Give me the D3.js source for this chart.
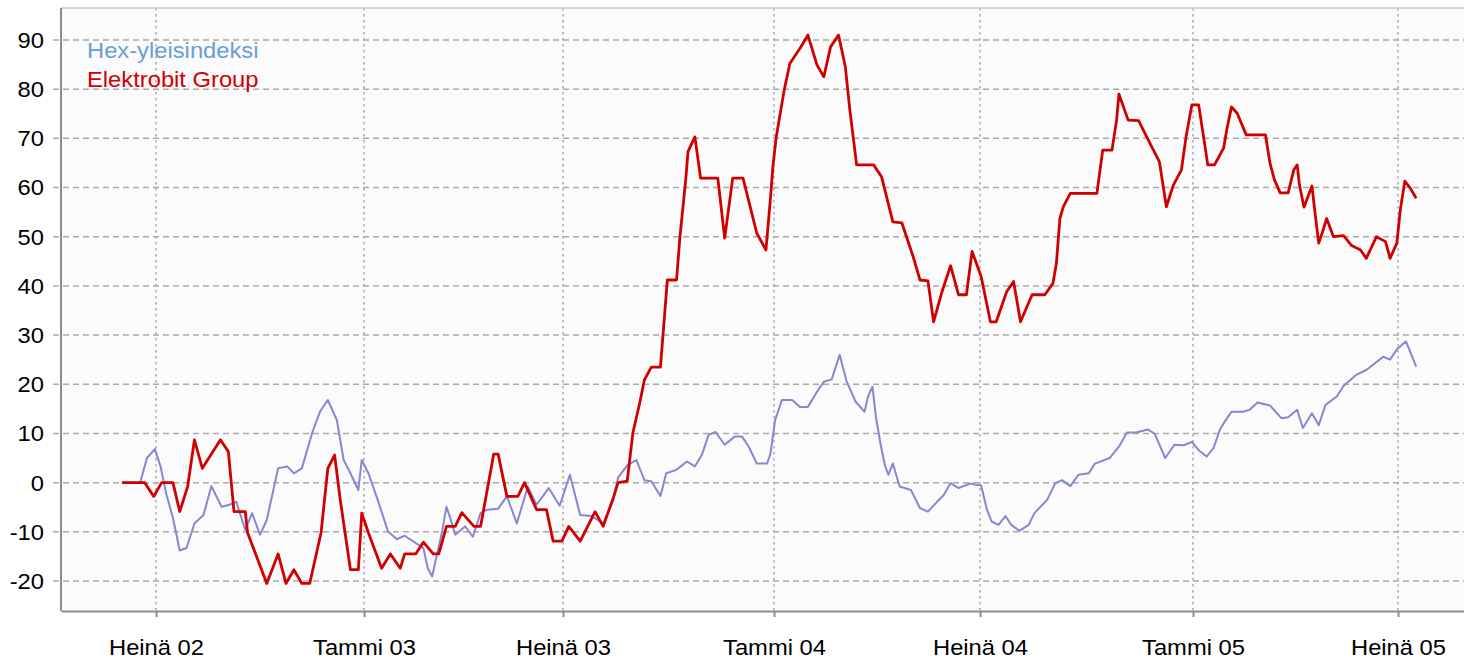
<!DOCTYPE html>
<html>
<head>
<meta charset="utf-8">
<script src="https://cdn.jsdelivr.net/npm/d3@7"></script>
<style>
body { margin: 0; background: #fff; }
text { font-family: "Liberation Sans", Arial, sans-serif; }
</style>
</head>
<body>
<script>
var width = 1464;
var height = 659;
var plotLeft = 61, plotTop = 8, plotRight = 1464, plotBottom = 611;
var fontSize = 22;
var stretch = 1.08; // text in the original is a bit wider than plain Arial

var seriesNames = ["Hex-yleisindeksi", "Elektrobit Group"];
var tickDates = ["2002-07-01", "2003-01-01", "2003-07-01", "2004-01-01", "2004-07-01", "2005-01-01", "2005-07-01"];
var tickLabels = ["Heinä 02", "Tammi 03", "Heinä 03", "Tammi 04", "Heinä 04", "Tammi 05", "Heinä 05"];
var yTicks = [-20, -10, 0, 10, 20, 30, 40, 50, 60, 70, 80, 90];

var hexDates = [
  "2002-06-01", "2002-06-17", "2002-06-23", "2002-06-30", "2002-07-05", "2002-07-10", "2002-07-16", "2002-07-22", "2002-07-28", "2002-08-04",
  "2002-08-12", "2002-08-19", "2002-08-28", "2002-09-04", "2002-09-10", "2002-09-18", "2002-09-24", "2002-10-01", "2002-10-07", "2002-10-17",
  "2002-10-25", "2002-10-31", "2002-11-07", "2002-11-16", "2002-11-23", "2002-11-30", "2002-12-08", "2002-12-14", "2002-12-20", "2002-12-27", "2002-12-30",
  "2003-01-05", "2003-01-13", "2003-01-23", "2003-01-31", "2003-02-07", "2003-02-24", "2003-02-28", "2003-03-04", "2003-03-08", "2003-03-13",
  "2003-03-17", "2003-03-20", "2003-03-25", "2003-04-03", "2003-04-10", "2003-04-17", "2003-04-23", "2003-05-03", "2003-05-11", "2003-05-20",
  "2003-05-30", "2003-06-07", "2003-06-18", "2003-06-28",
  "2003-07-07", "2003-07-16", "2003-07-26", "2003-08-05", "2003-08-14", "2003-08-18", "2003-08-26", "2003-09-03", "2003-09-10", "2003-09-16",
  "2003-09-24", "2003-09-29", "2003-10-08", "2003-10-17", "2003-10-24", "2003-10-30", "2003-11-05", "2003-11-11", "2003-11-19", "2003-11-28",
  "2003-12-04", "2003-12-10", "2003-12-17", "2003-12-26", "2003-12-29",
  "2004-01-02", "2004-01-08", "2004-01-17", "2004-01-24", "2004-01-31", "2004-02-08", "2004-02-14", "2004-02-21", "2004-02-28", "2004-03-05",
  "2004-03-13", "2004-03-21", "2004-03-24", "2004-03-28", "2004-03-31", "2004-04-04", "2004-04-08", "2004-04-11", "2004-04-15", "2004-04-21",
  "2004-05-01", "2004-05-09", "2004-05-16", "2004-05-24", "2004-05-30", "2004-06-05", "2004-06-12", "2004-06-22", "2004-07-02",
  "2004-07-07", "2004-07-11", "2004-07-17", "2004-07-23", "2004-07-28", "2004-08-04", "2004-08-12", "2004-08-17", "2004-08-28", "2004-09-04",
  "2004-09-10", "2004-09-17", "2004-09-24", "2004-10-03", "2004-10-08", "2004-10-21", "2004-10-29", "2004-11-05", "2004-11-13", "2004-11-23",
  "2004-11-29", "2004-12-08", "2004-12-16", "2004-12-24", "2004-12-31",
  "2005-01-06", "2005-01-13", "2005-01-19", "2005-01-25", "2005-01-29", "2005-02-04", "2005-02-14", "2005-02-20", "2005-02-27", "2005-03-10",
  "2005-03-20", "2005-03-26", "2005-04-03", "2005-04-08", "2005-04-16", "2005-04-22", "2005-04-28", "2005-05-08", "2005-05-14", "2005-05-25",
  "2005-06-03", "2005-06-18", "2005-06-24", "2005-06-30", "2005-07-08", "2005-07-17"
];
var hexValues = [
  0, 0, 5, 6.8, 3.3, -2.2, -7.2, -13.8, -13.3, -8.3,
  -6.6, -0.7, -4.9, -4.5, -3.9, -9.6, -6.2, -10.6, -7.6, 2.9,
  3.3, 1.9, 2.9, 10, 14.4, 16.8, 12.7, 4.6, 1.9, -1.5, 4.6,
  1.9, -3.2, -10, -11.5, -10.8, -13.3, -17.4, -19.1, -15, -10,
  -4.9, -6.9, -10.6, -8.9, -11, -6.2, -5.5, -5.3, -2.8, -8.3,
  -0.8, -4.5, -1.1, -4.7,
  1.6, -6.6, -6.8, -8.3, -3.5, 1, 3.5, 4.6, 0.5, 0.3,
  -2.7, 1.9, 2.6, 4.3, 3.3, 5.6, 9.7, 10.3, 7.7, 9.4,
  9.4, 7.3, 3.9, 3.9, 6,
  12.7, 16.8, 16.8, 15.4, 15.4, 18.5, 20.5, 21, 26, 20.7,
  16.5, 14.4, 17.5, 19.5, 13.4, 8, 3.5, 1.6, 3.9, -0.8,
  -1.5, -5.2, -5.9, -3.9, -2.5, -0.1, -1.1, -0.2, -0.6,
  -5.5, -7.9, -8.6, -6.8, -8.6, -9.8, -8.6, -6.2, -3.5, -0.1,
  0.5, -0.7, 1.6, 1.9, 3.8, 5, 7.3, 10.2, 10.2, 10.8,
  9.9, 5, 7.7, 7.6, 8.3,
  6.6, 5.3, 7, 10.9, 12.4, 14.4, 14.4, 14.8, 16.3, 15.7,
  13.1, 13.3, 14.8, 11.1, 14.1, 11.7, 15.8, 17.5, 19.7, 21.9,
  22.9, 25.6, 25, 27.1, 28.7, 23.6
];

var ebDates = [
  "2002-06-01", "2002-06-21", "2002-06-29", "2002-07-06", "2002-07-16", "2002-07-22", "2002-07-29", "2002-08-04", "2002-08-11", "2002-08-27",
  "2002-09-03", "2002-09-08", "2002-09-18", "2002-09-20", "2002-10-07", "2002-10-17", "2002-10-24", "2002-10-31", "2002-11-07", "2002-11-14",
  "2002-11-24", "2002-11-30", "2002-12-06", "2002-12-11", "2002-12-20", "2002-12-27", "2002-12-30",
  "2003-01-05", "2003-01-17", "2003-01-25", "2003-02-03", "2003-02-07", "2003-02-17", "2003-02-24", "2003-03-05", "2003-03-10", "2003-03-17",
  "2003-03-25", "2003-03-31", "2003-04-11", "2003-04-17", "2003-04-22", "2003-04-29", "2003-05-03", "2003-05-11", "2003-05-21", "2003-05-27",
  "2003-06-07", "2003-06-16", "2003-06-22", "2003-06-30",
  "2003-07-06", "2003-07-16", "2003-07-29", "2003-08-05", "2003-08-14", "2003-08-18", "2003-08-26", "2003-08-31", "2003-09-06", "2003-09-10",
  "2003-09-16", "2003-09-24", "2003-09-27", "2003-09-30", "2003-10-08", "2003-10-11", "2003-10-16", "2003-10-18", "2003-10-24", "2003-10-29",
  "2003-11-13", "2003-11-19", "2003-11-26", "2003-12-05", "2003-12-17", "2003-12-25", "2003-12-29", "2003-12-31",
  "2004-01-03", "2004-01-06", "2004-01-10", "2004-01-15", "2004-01-24", "2004-01-31", "2004-02-08", "2004-02-14", "2004-02-20", "2004-02-27",
  "2004-03-04", "2004-03-08", "2004-03-14", "2004-03-29", "2004-04-05", "2004-04-15", "2004-04-23", "2004-05-03", "2004-05-09", "2004-05-16",
  "2004-05-21", "2004-05-28", "2004-06-05", "2004-06-12", "2004-06-19", "2004-06-24",
  "2004-07-02", "2004-07-10", "2004-07-15", "2004-07-24", "2004-07-30", "2004-08-05", "2004-08-15", "2004-08-26", "2004-09-02", "2004-09-05",
  "2004-09-08", "2004-09-11", "2004-09-17", "2004-10-10", "2004-10-15", "2004-10-23", "2004-10-27", "2004-10-29", "2004-11-06", "2004-11-15",
  "2004-11-22", "2004-12-03", "2004-12-09", "2004-12-15", "2004-12-22", "2004-12-26", "2004-12-31",
  "2005-01-06", "2005-01-11", "2005-01-14", "2005-01-20", "2005-01-28", "2005-01-31", "2005-02-04", "2005-02-09", "2005-02-17", "2005-03-06",
  "2005-03-10", "2005-03-14", "2005-03-19", "2005-03-26", "2005-03-31", "2005-04-03", "2005-04-05", "2005-04-09", "2005-04-13", "2005-04-16",
  "2005-04-19", "2005-04-22", "2005-04-25", "2005-04-29", "2005-05-05", "2005-05-14", "2005-05-21", "2005-05-29", "2005-06-03", "2005-06-12",
  "2005-06-20", "2005-06-24", "2005-06-30", "2005-07-03", "2005-07-07", "2005-07-12", "2005-07-17"
];
var ebValues = [
  0, 0, -2.8, 0, 0, -5.9, -0.8, 8.7, 2.9, 8.7,
  6.3, -5.9, -5.9, -10.2, -20.5, -14.5, -20.5, -17.7, -20.5, -20.5,
  -10.2, 2.9, 5.6, -3.5, -17.7, -17.7, -6.2,
  -10.2, -17.4, -14.5, -17.4, -14.5, -14.5, -12.1, -14.5, -14.5, -8.9,
  -8.9, -6.1, -8.9, -8.9, -2.8, 5.8, 5.8, -2.8, -2.8, 0,
  -5.5, -5.5, -11.9, -11.9,
  -8.9, -11.9, -5.9, -8.9, -3, 0, 0.3, 10.2, 16.3, 20.9,
  23.5, 23.5, 32.4, 41.2, 41.2, 50, 61.5, 67.3, 70.3, 61.9,
  61.9, 49.7, 61.9, 61.9, 50.7, 47.3, 58.1, 64.2,
  70.3, 74.4, 79.8, 85.2, 88.3, 91, 84.9, 82.5, 88.6, 91,
  84.6, 75.8, 64.6, 64.6, 62.2, 53, 52.8, 45.9, 41.2, 41,
  32.7, 38.5, 44.1, 38.2, 38.2, 47,
  41.9, 32.7, 32.7, 38.8, 40.9, 32.7, 38.2, 38.2, 40.5, 44.6,
  53.7, 56.1, 58.8, 58.8, 67.6, 67.6, 73.7, 79, 73.7, 73.6,
  70.3, 65.2, 56.1, 60.5, 63.6, 70.3, 76.8,
  76.8, 69.3, 64.6, 64.6, 68, 72, 76.4, 75.1, 70.7, 70.7,
  64.9, 61.5, 58.9, 58.9, 63.6, 64.6, 60.5, 56, 58.5, 60.3,
  54.4, 48.7, 50.7, 53.7, 50, 50.2, 48.2, 47.3, 45.6, 50,
  49, 45.6, 48.7, 55.4, 61.3, 59.8, 57.8
];

var parse = d3.timeParse("%Y-%m-%d");
var hexData = hexDates.map(function (d, i) { return { date: parse(d), value: hexValues[i] }; });
var ebData = ebDates.map(function (d, i) { return { date: parse(d), value: ebValues[i] }; });
var ticks = tickDates.map(parse);

// the source axis is not exactly calendar-linear, so the scale is pinned at every tick
var xScale = d3.scaleTime()
    .domain([parse("2002-04-08")].concat(ticks, [parse("2005-08-28")]))
    .range([plotLeft, 156, 364, 563, 774, 980, 1193, 1398, plotRight]);
var yScale = d3.scaleLinear().domain([-26.1, 96.5]).range([plotBottom, plotTop]);

var svg = d3.select("body").append("svg")
    .attr("width", width)
    .attr("height", height);

svg.append("rect")
    .attr("x", plotLeft).attr("y", plotTop)
    .attr("width", plotRight - plotLeft).attr("height", plotBottom - plotTop)
    .attr("fill", "#fbfbfb");

// grid
svg.append("g").selectAll("line")
    .data(yTicks)
    .enter().append("line")
    .attr("x1", plotLeft - 8).attr("x2", plotRight)
    .attr("y1", d => yScale(d)).attr("y2", d => yScale(d))
    .attr("stroke", "#aaaaaa")
    .attr("stroke-width", 1.5)
    .attr("stroke-dasharray", "6,4");

svg.append("g").selectAll("line")
    .data(ticks)
    .enter().append("line")
    .attr("x1", d => xScale(d)).attr("x2", d => xScale(d))
    .attr("y1", plotTop).attr("y2", plotBottom)
    .attr("stroke", "#aaaaaa")
    .attr("stroke-width", 1.5)
    .attr("stroke-dasharray", "2.5,3.5");

// frame
svg.append("line")
    .attr("x1", plotLeft).attr("x2", plotRight).attr("y1", plotTop).attr("y2", plotTop)
    .attr("stroke", "#c4c4c4").attr("stroke-width", 1.5);
svg.append("line")
    .attr("x1", plotLeft).attr("x2", plotLeft).attr("y1", plotTop).attr("y2", plotBottom)
    .attr("stroke", "#8c8c8c").attr("stroke-width", 2);

// x axis
var xAxis = d3.axisBottom(xScale)
    .tickValues(ticks)
    .tickSizeInner(6)
    .tickSizeOuter(0)
    .tickPadding(22)
    .tickFormat((d, i) => tickLabels[i]);

var xg = svg.append("g")
    .attr("transform", "translate(0," + plotBottom + ")")
    .call(xAxis);
xg.select(".domain").attr("stroke", "#8c8c8c").attr("stroke-width", 2);
xg.selectAll(".tick line").attr("stroke", "#8c8c8c").attr("stroke-width", 2);
xg.selectAll(".tick text")
    .attr("font-family", "Liberation Sans, Arial, sans-serif")
    .attr("font-size", fontSize)
    .attr("fill", "#000")
    .attr("transform", "scale(" + stretch + ",1)");

// y labels
svg.append("g").selectAll("text")
    .data(yTicks)
    .enter().append("text")
    .attr("transform", d => "translate(44," + yScale(d) + ") scale(" + stretch + ",1)")
    .attr("dy", "0.36em")
    .attr("text-anchor", "end")
    .attr("font-size", fontSize)
    .attr("fill", "#000")
    .text(d => d);

// lines
var line = d3.line()
    .x(d => xScale(d.date))
    .y(d => yScale(d.value));

svg.append("path")
    .datum(hexData)
    .attr("fill", "none")
    .attr("stroke", "#8488d0")
    .attr("stroke-width", 2)
    .attr("stroke-linejoin", "round")
    .attr("d", line);

svg.append("path")
    .datum(ebData)
    .attr("fill", "none")
    .attr("stroke", "#d00000")
    .attr("stroke-width", 2.8)
    .attr("stroke-linejoin", "round")
    .attr("d", line);

// legend
var legendColors = ["#6a9fd4", "#d00000"];
svg.append("g").selectAll("text")
    .data(seriesNames)
    .enter().append("text")
    .attr("transform", (d, i) => "translate(87," + (58 + i * 29) + ") scale(" + stretch + ",1)")
    .attr("font-size", fontSize)
    .attr("fill", (d, i) => legendColors[i])
    .text(d => d);
</script>
</body>
</html>
